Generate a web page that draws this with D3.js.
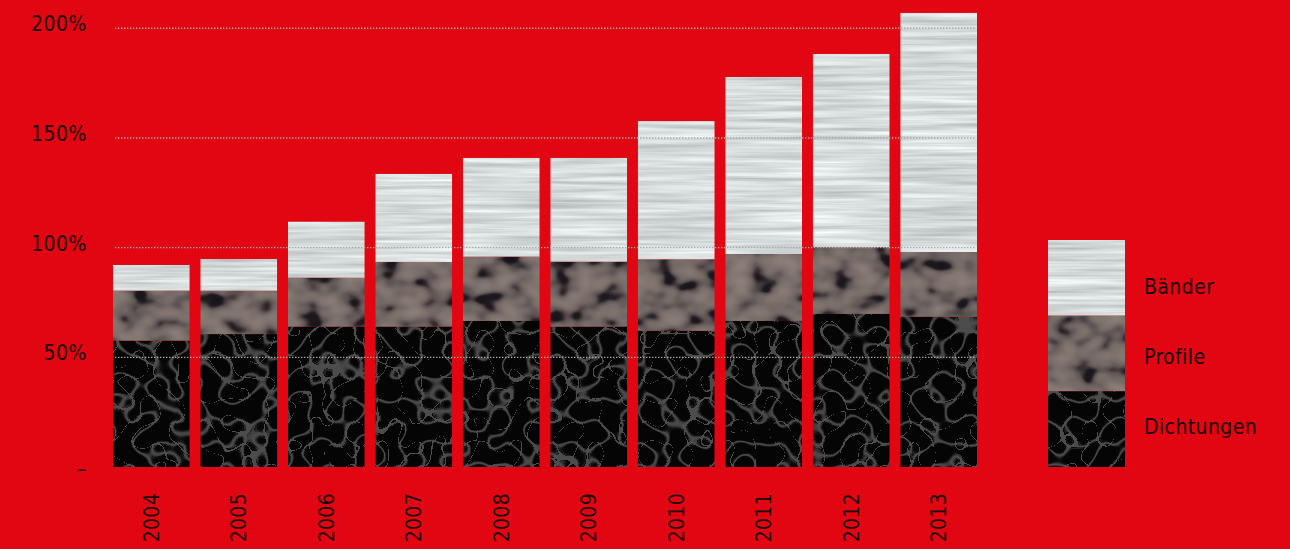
<!DOCTYPE html>
<html>
<head>
<meta charset="utf-8">
<script src="https://cdn.jsdelivr.net/npm/d3@7"></script>
<style>
  html, body { margin: 0; padding: 0; background: #e20613; }
  svg { display: block; }
  text { font-family: 'DejaVu Sans Condensed', 'DejaVu Sans', sans-serif; font-stretch: condensed; fill: #1c0306; }
</style>
</head>
<body>
<svg id="chart" width="1290" height="549"></svg>
<script>
// values, in percent
const years = ["2004", "2005", "2006", "2007", "2008", "2009", "2010", "2011", "2012", "2013"];
const dichtungen = [57.6, 60.6, 64.0, 64.0, 66.6, 64.0, 62.1, 66.6, 69.8, 68.5];
const profile    = [22.8, 19.8, 22.3, 29.5, 29.3, 29.6, 32.6, 30.5, 30.4, 29.5];
const baender    = [11.7, 14.4, 25.5, 40.1, 45.0, 47.3, 63.0, 80.7, 88.1, 109.0];
const seriesNames = ["Dichtungen", "Profile", "Bänder"];
const legendOrder = ["Bänder", "Profile", "Dichtungen"];
const yTicks = [0, 50, 100, 150, 200];

const svg = d3.select('#chart');
const defs = svg.append('defs');

const texId = name => 'url(#tex-' + name.replace('ä', 'ae') + ')';

function grayTable(n, head, rest) {
  // head values then a flat tail, for feFuncX tables
  const out = head.slice();
  while (out.length < n) out.push(rest);
  return out.join(' ');
}

// brushed metal look for Bänder
const metal = defs.append('filter').attr('id', 'tex-Baender')
  .attr('color-interpolation-filters', 'sRGB');
metal.append('feTurbulence')
  .attr('type', 'fractalNoise').attr('baseFrequency', '0.008 0.22')
  .attr('numOctaves', 3).attr('seed', 4).attr('result', 'n');
metal.append('feColorMatrix').attr('in', 'n').attr('type', 'matrix')
  .attr('values', '0.36 0 0 0 0.66  0.36 0 0 0 0.68  0.36 0 0 0 0.68  0 0 0 0 1')
  .attr('result', 'c');
metal.append('feComposite').attr('in', 'c').attr('in2', 'SourceGraphic').attr('operator', 'in');

// grey-brown blobs for Profile
const blobs = defs.append('filter').attr('id', 'tex-Profile')
  .attr('color-interpolation-filters', 'sRGB');
blobs.append('feTurbulence')
  .attr('type', 'fractalNoise').attr('baseFrequency', '0.04 0.055')
  .attr('numOctaves', 2).attr('seed', 11).attr('result', 'n');
blobs.append('feColorMatrix').attr('in', 'n').attr('type', 'matrix')
  .attr('values', '1 0 0 0 0  1 0 0 0 0  1 0 0 0 0  0 0 0 0 1').attr('result', 'g');
const ct = blobs.append('feComponentTransfer').attr('in', 'g').attr('result', 'c');
ct.append('feFuncR').attr('type', 'table').attr('tableValues', '0.07 0.08 0.12 0.36 0.45 0.5 0.53 0.56 0.58');
ct.append('feFuncG').attr('type', 'table').attr('tableValues', '0.07 0.07 0.1 0.32 0.41 0.45 0.48 0.5 0.52');
ct.append('feFuncB').attr('type', 'table').attr('tableValues', '0.09 0.1 0.12 0.32 0.4 0.43 0.46 0.48 0.5');
blobs.append('feComposite').attr('in', 'c').attr('in2', 'SourceGraphic').attr('operator', 'in');

// dark cracked surface for Dichtungen
const cracks = defs.append('filter').attr('id', 'tex-Dichtungen')
  .attr('color-interpolation-filters', 'sRGB');
cracks.append('feTurbulence')
  .attr('type', 'turbulence').attr('baseFrequency', '0.045')
  .attr('numOctaves', 1).attr('seed', 7).attr('result', 'n');
cracks.append('feColorMatrix').attr('in', 'n').attr('type', 'matrix')
  .attr('values', '1 0 0 0 0  1 0 0 0 0  1 0 0 0 0  0 0 0 0 1').attr('result', 'g');
const ct2 = cracks.append('feComponentTransfer').attr('in', 'g').attr('result', 'c');
const crackTable = grayTable(32, [0.3, 0.24, 0.08], 0.02);
ct2.append('feFuncR').attr('type', 'table').attr('tableValues', crackTable);
ct2.append('feFuncG').attr('type', 'table').attr('tableValues', crackTable);
ct2.append('feFuncB').attr('type', 'table').attr('tableValues', crackTable);
cracks.append('feComposite').attr('in', 'c').attr('in2', 'SourceGraphic').attr('operator', 'in');

const rows = years.map((yr, i) => ({
  year: yr, Dichtungen: dichtungen[i], Profile: profile[i], 'Bänder': baender[i]
}));
const stacked = d3.stack().keys(seriesNames)(rows);

const x = d3.scaleBand().domain(years).range([113, 977]).paddingInner(0.125);
const y = d3.scaleLinear().domain([0, 200]).range([467, 28.3]);

// bars
svg.append('g').selectAll('g')
  .data(stacked)
  .join('g')
    .attr('filter', d => texId(d.key))
  .selectAll('rect')
  .data(d => d)
  .join('rect')
    .attr('x', d => x(d.data.year))
    .attr('width', x.bandwidth())
    .attr('y', d => y(d[1]))
    .attr('height', d => y(d[0]) - y(d[1]))
    .attr('fill', '#000');

// dotted grid lines, drawn over the bars
svg.append('g').selectAll('line')
  .data(yTicks.filter(t => t > 0))
  .join('line')
    .attr('x1', 115).attr('x2', 976)
    .attr('y1', d => y(d)).attr('y2', d => y(d))
    .attr('stroke', '#a8a8a8')
    .attr('stroke-width', 1.4)
    .attr('stroke-dasharray', '1.4 1.6');

// y axis labels
const yAxis = svg.append('g')
  .attr('transform', 'translate(87,0)')
  .call(d3.axisLeft(y).tickValues(yTicks).tickSize(0).tickPadding(0)
    .tickFormat(d => d === 0 ? '–' : d + '%'));
yAxis.select('.domain').remove();
yAxis.selectAll('text')
  .attr('fill', null)
  .attr('font-family', null)
  .attr('font-size', 21)
  .attr('letter-spacing', 0.5)
  .attr('dy', d => d === 0 ? '0.4em' : '0.12em');

// year labels, rotated
svg.append('g').selectAll('text')
  .data(years)
  .join('text')
    .attr('transform', d => `translate(${x(d) + x.bandwidth() / 2},493) rotate(-90)`)
    .attr('text-anchor', 'end')
    .attr('dy', '0.36em')
    .attr('font-size', 21)
    .attr('letter-spacing', 0.3)
    .text(d => d);

// legend
const ly = d3.scaleBand().domain(legendOrder).range([240, 467]);
const legend = svg.append('g');
legend.selectAll('rect')
  .data(legendOrder)
  .join('rect')
    .attr('x', 1048).attr('width', 77)
    .attr('y', d => ly(d)).attr('height', ly.bandwidth())
    .attr('fill', '#000')
    .attr('filter', d => texId(d));
legend.selectAll('text')
  .data(legendOrder)
  .join('text')
    .attr('x', 1144)
    .attr('y', (d, i) => 294 + 70 * i)
    .attr('font-size', 21)
    .attr('letter-spacing', 0.4)
    .text(d => d);
</script>
</body>
</html>
